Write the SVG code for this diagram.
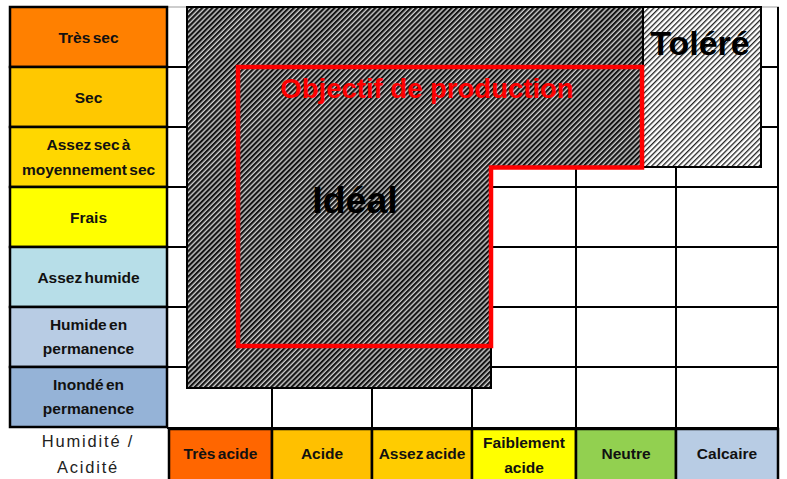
<svg xmlns="http://www.w3.org/2000/svg" width="787" height="479" viewBox="0 0 787 479">
<style>
.lbl{font-family:"Liberation Sans",Arial,sans-serif;font-weight:bold;font-size:15.5px;fill:#111;text-anchor:middle;word-spacing:-2px}
.cell{stroke:#000;stroke-width:2.5}
.grid{stroke:#000;stroke-width:2;fill:none}
.gray{stroke:#bdbdbd;stroke-width:1.5;fill:none}
</style>
<defs>
<pattern id="hatchDark" width="3.6" height="3.6" patternUnits="userSpaceOnUse" patternTransform="rotate(45)">
<rect width="3.6" height="3.6" fill="#cfcfcf"/>
<rect width="2.2" height="3.6" fill="#151515"/>
</pattern>
<pattern id="hatchLight" width="3.8" height="3.8" patternUnits="userSpaceOnUse" patternTransform="rotate(45)">
<rect width="3.8" height="3.8" fill="#ffffff"/>
<rect width="1.3" height="3.8" fill="#222"/>
</pattern>
</defs>
<rect width="787" height="479" fill="#fff"/>

<g id="grid">
<line class="gray" x1="167" y1="7" x2="779" y2="7"/>
<line class="grid" x1="167" y1="67" x2="779" y2="67"/>
<line class="grid" x1="167" y1="127" x2="779" y2="127"/>
<line class="grid" x1="167" y1="187" x2="779" y2="187"/>
<line class="grid" x1="167" y1="247" x2="779" y2="247"/>
<line class="grid" x1="167" y1="307" x2="779" y2="307"/>
<line class="grid" x1="167" y1="367" x2="779" y2="367"/>
<line class="grid" x1="272" y1="7" x2="272" y2="428"/>
<line class="grid" x1="372" y1="7" x2="372" y2="428"/>
<line class="grid" x1="472" y1="7" x2="472" y2="428"/>
<line class="grid" x1="576" y1="7" x2="576" y2="428"/>
<line class="grid" x1="676" y1="7" x2="676" y2="428"/>
<line class="grid" x1="778" y1="7" x2="778" y2="479" stroke-width="2.5"/>
<line class="grid" x1="167" y1="428" x2="779" y2="428"/>
</g>

<g id="zone-ideal">
<polygon points="187,7 643,7 643,167 491,167 491,388 187,388" fill="url(#hatchDark)" stroke="#000" stroke-width="2"/>
<text x="355" y="213" font-family="Liberation Sans,Arial,sans-serif" font-weight="bold" font-size="37.5" fill="#000" text-anchor="middle">Idéal</text>
</g>

<g id="zone-tolere">
<rect x="643" y="7" width="118" height="160" fill="url(#hatchLight)" stroke="#000" stroke-width="2"/>
<text x="700" y="55" font-family="Liberation Sans,Arial,sans-serif" font-weight="bold" font-size="34" fill="#000" text-anchor="middle">Toléré</text>
</g>

<g id="objectif-production">
<polygon points="238,67 642,67 642,167.5 491,167.5 491,346 238,346" fill="none" stroke="#ff0000" stroke-width="4.5"/>
<text x="427" y="98" font-family="Liberation Sans,Arial,sans-serif" font-weight="bold" font-size="27.5" fill="#ff0000" text-anchor="middle">Objectif de production</text>
</g>

<g id="humidite">
<g id="h-tres-sec"><rect class="cell" x="10" y="7" width="157" height="60" fill="#ff8000"/><text class="lbl" x="88.5" y="43">Très sec</text></g>
<g id="h-sec"><rect class="cell" x="10" y="67" width="157" height="60" fill="#ffc800"/><text class="lbl" x="88.5" y="103">Sec</text></g>
<g id="h-assez-sec"><rect class="cell" x="10" y="127" width="157" height="60" fill="#ffd700"/><text class="lbl" x="88.5" y="150">Assez sec à</text><text class="lbl" x="88.5" y="175">moyennement sec</text></g>
<g id="h-frais"><rect class="cell" x="10" y="187" width="157" height="60" fill="#ffff00"/><text class="lbl" x="88.5" y="223">Frais</text></g>
<g id="h-assez-humide"><rect class="cell" x="10" y="247" width="157" height="60" fill="#b7dee8"/><text class="lbl" x="88.5" y="283">Assez humide</text></g>
<g id="h-humide"><rect class="cell" x="10" y="307" width="157" height="60" fill="#b8cce4"/><text class="lbl" x="88.5" y="330">Humide en</text><text class="lbl" x="88.5" y="354">permanence</text></g>
<g id="h-inonde"><rect class="cell" x="10" y="367" width="157" height="60" fill="#95b3d7"/><text class="lbl" x="88.5" y="390">Inondé en</text><text class="lbl" x="88.5" y="414">permanence</text></g>
</g>

<g id="axis-title">
<text x="88" y="447" font-family="Liberation Sans,Arial,sans-serif" font-size="16.5" fill="#222" text-anchor="middle" letter-spacing="1.8">Humidité /</text>
<text x="88" y="473" font-family="Liberation Sans,Arial,sans-serif" font-size="16.5" fill="#222" text-anchor="middle" letter-spacing="1.8">Acidité</text>
</g>

<g id="acidite">
<g id="a-tres-acide"><rect class="cell" x="169" y="429" width="103" height="52" fill="#ff6600"/><text class="lbl" x="220.5" y="459">Très acide</text></g>
<g id="a-acide"><rect class="cell" x="272" y="429" width="100" height="52" fill="#ffc000"/><text class="lbl" x="322" y="459">Acide</text></g>
<g id="a-assez-acide"><rect class="cell" x="372" y="429" width="100" height="52" fill="#ffcc00"/><text class="lbl" x="422" y="459">Assez acide</text></g>
<g id="a-faiblement"><rect class="cell" x="472" y="429" width="104" height="52" fill="#ffff00"/><text class="lbl" x="524" y="448">Faiblement</text><text class="lbl" x="524" y="473">acide</text></g>
<g id="a-neutre"><rect class="cell" x="576" y="429" width="100" height="52" fill="#92d050"/><text class="lbl" x="626" y="459">Neutre</text></g>
<g id="a-calcaire"><rect class="cell" x="676" y="429" width="102" height="52" fill="#b8cce4"/><text class="lbl" x="727" y="459">Calcaire</text></g>
</g>
<g id="connectors"></g>
</svg>
